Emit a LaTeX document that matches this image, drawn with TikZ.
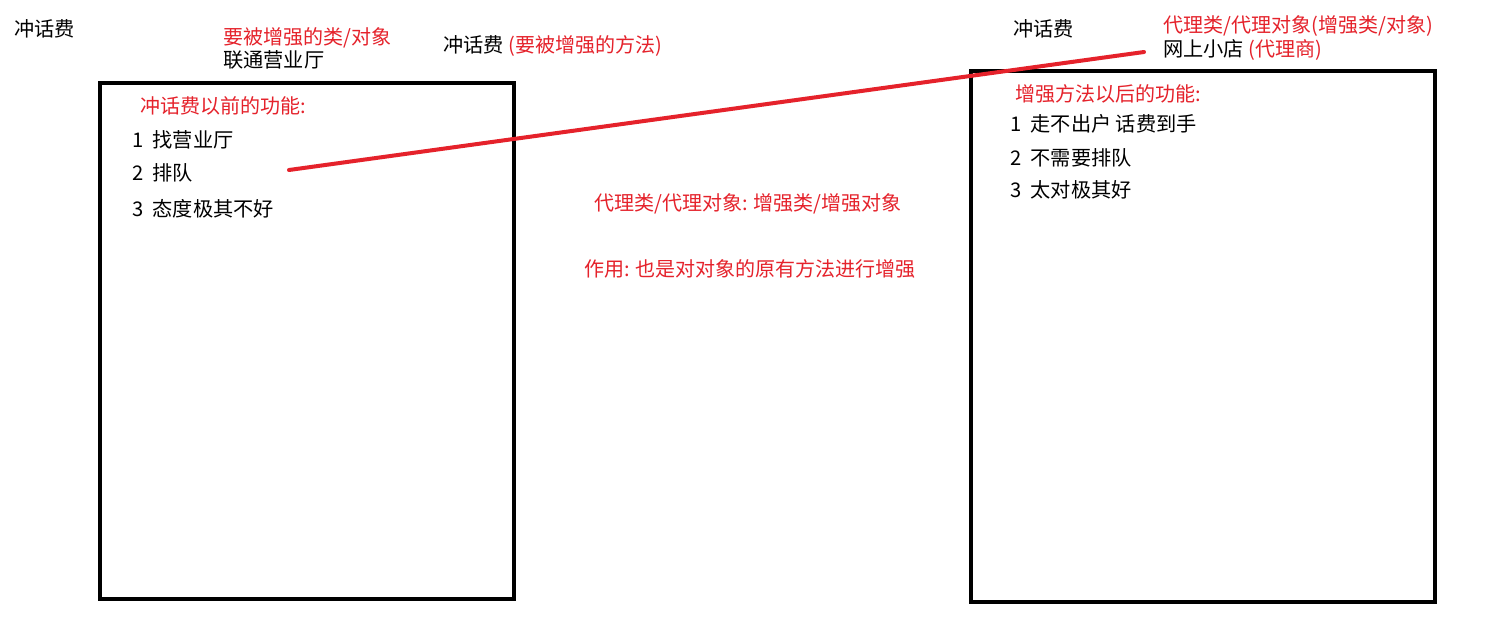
\documentclass[tikz,border=0pt]{standalone}
\usepackage{fontspec}
\setmainfont{Noto Sans CJK SC}
\definecolor{myred}{HTML}{E5222B}
\newcommand{\redsize}{\fontsize{11.4pt}{13pt}\selectfont}
\begin{document}
\begin{tikzpicture}[x=0.02cm,y=-0.02cm,
  txt/.style={anchor=west,inner sep=0pt,font=\fontsize{11.5pt}{13pt}\selectfont},
  rtxt/.style={txt,text=myred,font=\redsize},
  ctxt/.style={anchor=center,inner sep=0pt,text=myred,font=\redsize},
  frame/.style={draw=black,line width=0.09cm,inner sep=0pt},
  link/.style={draw=myred,line width=0.08cm,line cap=round}]
\useasboundingbox (0,0) rectangle (1500,632);
\fill[white] (0,0) rectangle (1500,632);
% boxes
\node[frame,minimum width=8.28cm,minimum height=10.32cm] (lbox) at (307,341) {};
\node[frame,minimum width=9.28cm,minimum height=10.62cm] (rbox) at (1203,336.5) {};
% top labels left
\node[txt] (t1) at (14,29) {冲话费};
\node[rtxt] (t2) at (223,38) {要被增强的类/对象};
\node[txt] (t3) at (223,60) {联通营业厅};
\node[txt] (t4) at (443,46) {冲话费 \textcolor{myred}{\redsize(要被增强的方法)}};
% left box content
\node[rtxt] (l0) at (140,106) {冲话费以前的功能:};
\node[txt] (l1) at (132,140) {1\ \ 找营业厅};
\node[txt] (l2) at (132,173) {2\ \ 排队};
\node[txt] (l3) at (132,209) {3\ \ 态度极其不好};
% right top labels
\node[txt] (r0) at (1013,29) {冲话费};
\node[rtxt] (r1) at (1163,26) {代理类/代理对象(增强类/对象)};
\node[txt] (r2) at (1163,50) {网上小店 \textcolor{myred}{\redsize(代理商)}};
% right box content
\node[rtxt] (q0) at (1015,94) {增强方法以后的功能:};
\node[txt] (q1) at (1010,124) {1\ \ 走不出户 话费到手};
\node[txt] (q2) at (1010,158) {2\ \ 不需要排队};
\node[txt] (q3) at (1010,190) {3\ \ 太对极其好};
% center notes
\node[ctxt] (c1) at (748,204) {代理类/代理对象: 增强类/增强对象};
\node[ctxt] (c2) at (750,269) {作用: 也是对对象的原有方法进行增强};
% red link
\coordinate (a) at (289,170);
\coordinate (b) at (1144,52);
\draw[link] (a) -- (b);
\end{tikzpicture}
\end{document}
